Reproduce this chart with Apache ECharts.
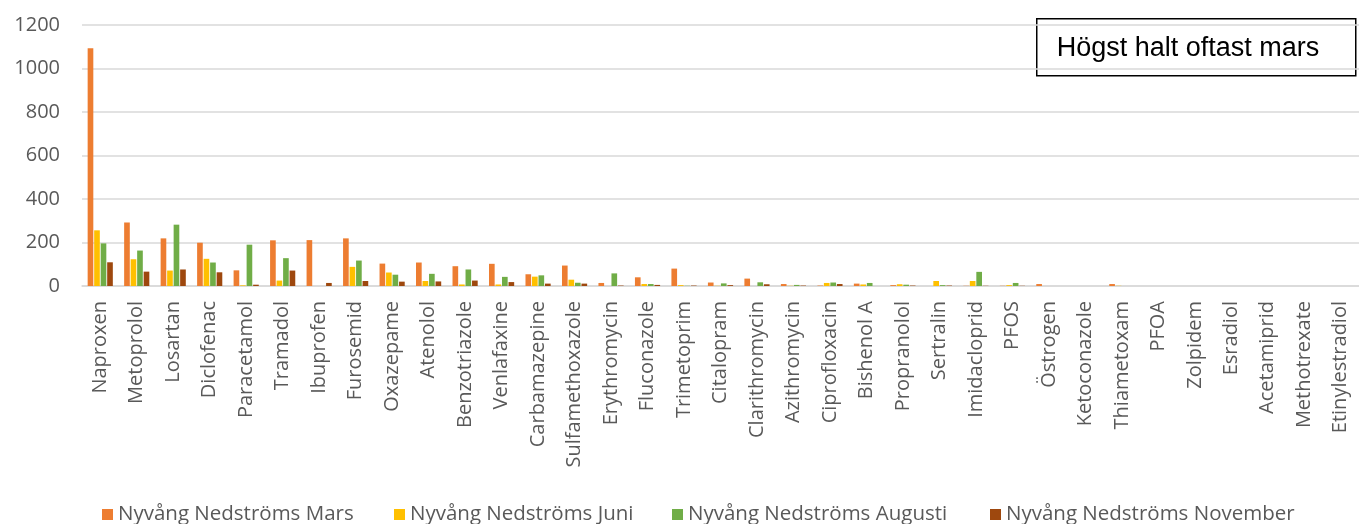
<!DOCTYPE html>
<html>
<head>
<meta charset="utf-8">
<script src="https://cdn.jsdelivr.net/npm/echarts@6/dist/echarts.min.js"></script>
<style>
html,body{margin:0;padding:0;background:#fff;}
#chart{width:1359px;height:524px;}
</style>
</head>
<body>
<div id="chart"></div>
<script>
const categories = ["Naproxen","Metoprolol","Losartan","Diclofenac","Paracetamol","Tramadol","Ibuprofen","Furosemid","Oxazepame","Atenolol","Benzotriazole","Venlafaxine","Carbamazepine","Sulfamethoxazole","Erythromycin","Fluconazole","Trimetoprim","Citalopram","Clarithromycin","Azithromycin","Ciprofloxacin","Bishenol A","Propranolol","Sertralin","Imidacloprid","PFOS","Östrogen","Ketoconazole","Thiametoxam","PFOA","Zolpidem","Esradiol","Acetamiprid","Methotrexate","Etinylestradiol"];
const seriesNames = ["Nyvång Nedströms Mars","Nyvång Nedströms Juni","Nyvång Nedströms Augusti","Nyvång Nedströms November"];
const mars     = [1093,292,219,199,72,210,211,219,103,108,91,102,54,94,14,40,80,16,34,9,2,11,4,0,1,1,9,0,9,0,0,0,0,0,0];
const juni     = [256,123,71,125,3,25,0,88,62,23,7,7,43,29,0,9,4,1,0,1,14,7,8,23,23,4,0,0,1,0,0,0,0,0,0];
const augusti  = [196,163,282,108,190,128,0,117,52,56,76,42,49,15,58,9,1,12,17,5,16,14,6,4,65,14,0,0,0,0,0,0,0,0,0];
const november = [109,66,76,63,6,71,14,23,20,21,25,18,11,11,2,5,2,4,8,2,9,0,2,2,1,1,0,0,0,0,0,0,0,0,0];
const yTicks = {min:0, max:1200, interval:200};
const annotation = "Högst halt oftast mars";
const colors = ["#ED7D31","#FFC000","#70AD47","#9E480E"];
const legendLeft = [97, 389, 667, 985];

const chart = echarts.init(document.getElementById('chart'));
const values = [mars, juni, augusti, november];
chart.setOption({
  animation:false,
  color: colors,
  textStyle:{fontFamily:"Open Sans"},
  grid:{left:82,right:0,top:25,bottom:238,containLabel:false},
  legend: seriesNames.map((n,i)=>({
    data:[n],
    left:legendLeft[i], top:499,
    itemWidth:11, itemHeight:11,
    icon:'rect',
    textStyle:{fontSize:20.5,color:'#595959',fontFamily:"Open Sans",padding:[0,0,0,0]}
  })),
  xAxis:{
    type:'category', data:categories,
    axisTick:{show:false},
    axisLine:{lineStyle:{color:'#d9d9d9',width:1.5}},
    axisLabel:{rotate:90,interval:0,margin:15,fontSize:20,color:'#595959',fontFamily:"Open Sans"}
  },
  yAxis:{
    type:'value', min:yTicks.min, max:yTicks.max, interval:yTicks.interval,
    axisLine:{show:false}, axisTick:{show:false},
    splitLine:{lineStyle:{color:'#d9d9d9',width:1.5}},
    axisLabel:{fontSize:20,color:'#595959',margin:22,fontFamily:"Open Sans",formatter:v=>String(v)}
  },
  series: seriesNames.map((n,i)=>({
    name:n, type:'bar', data:values[i],
    barCategoryGap:'31%', barGap:'15%'
  })),
  graphic:[{
    type:'group', left:1036, top:18,
    children:[
      {type:'rect', shape:{x:0,y:0,width:319,height:57}, style:{fill:'#fff',stroke:'#000',lineWidth:1.5}},
      {type:'text', x:20, y:30, style:{text:annotation, fontSize:27, fontFamily:'Liberation Sans', fill:'#000', textVerticalAlign:'middle', verticalAlign:'middle'}}
    ]
  }]
});
</script>
</body>
</html>
